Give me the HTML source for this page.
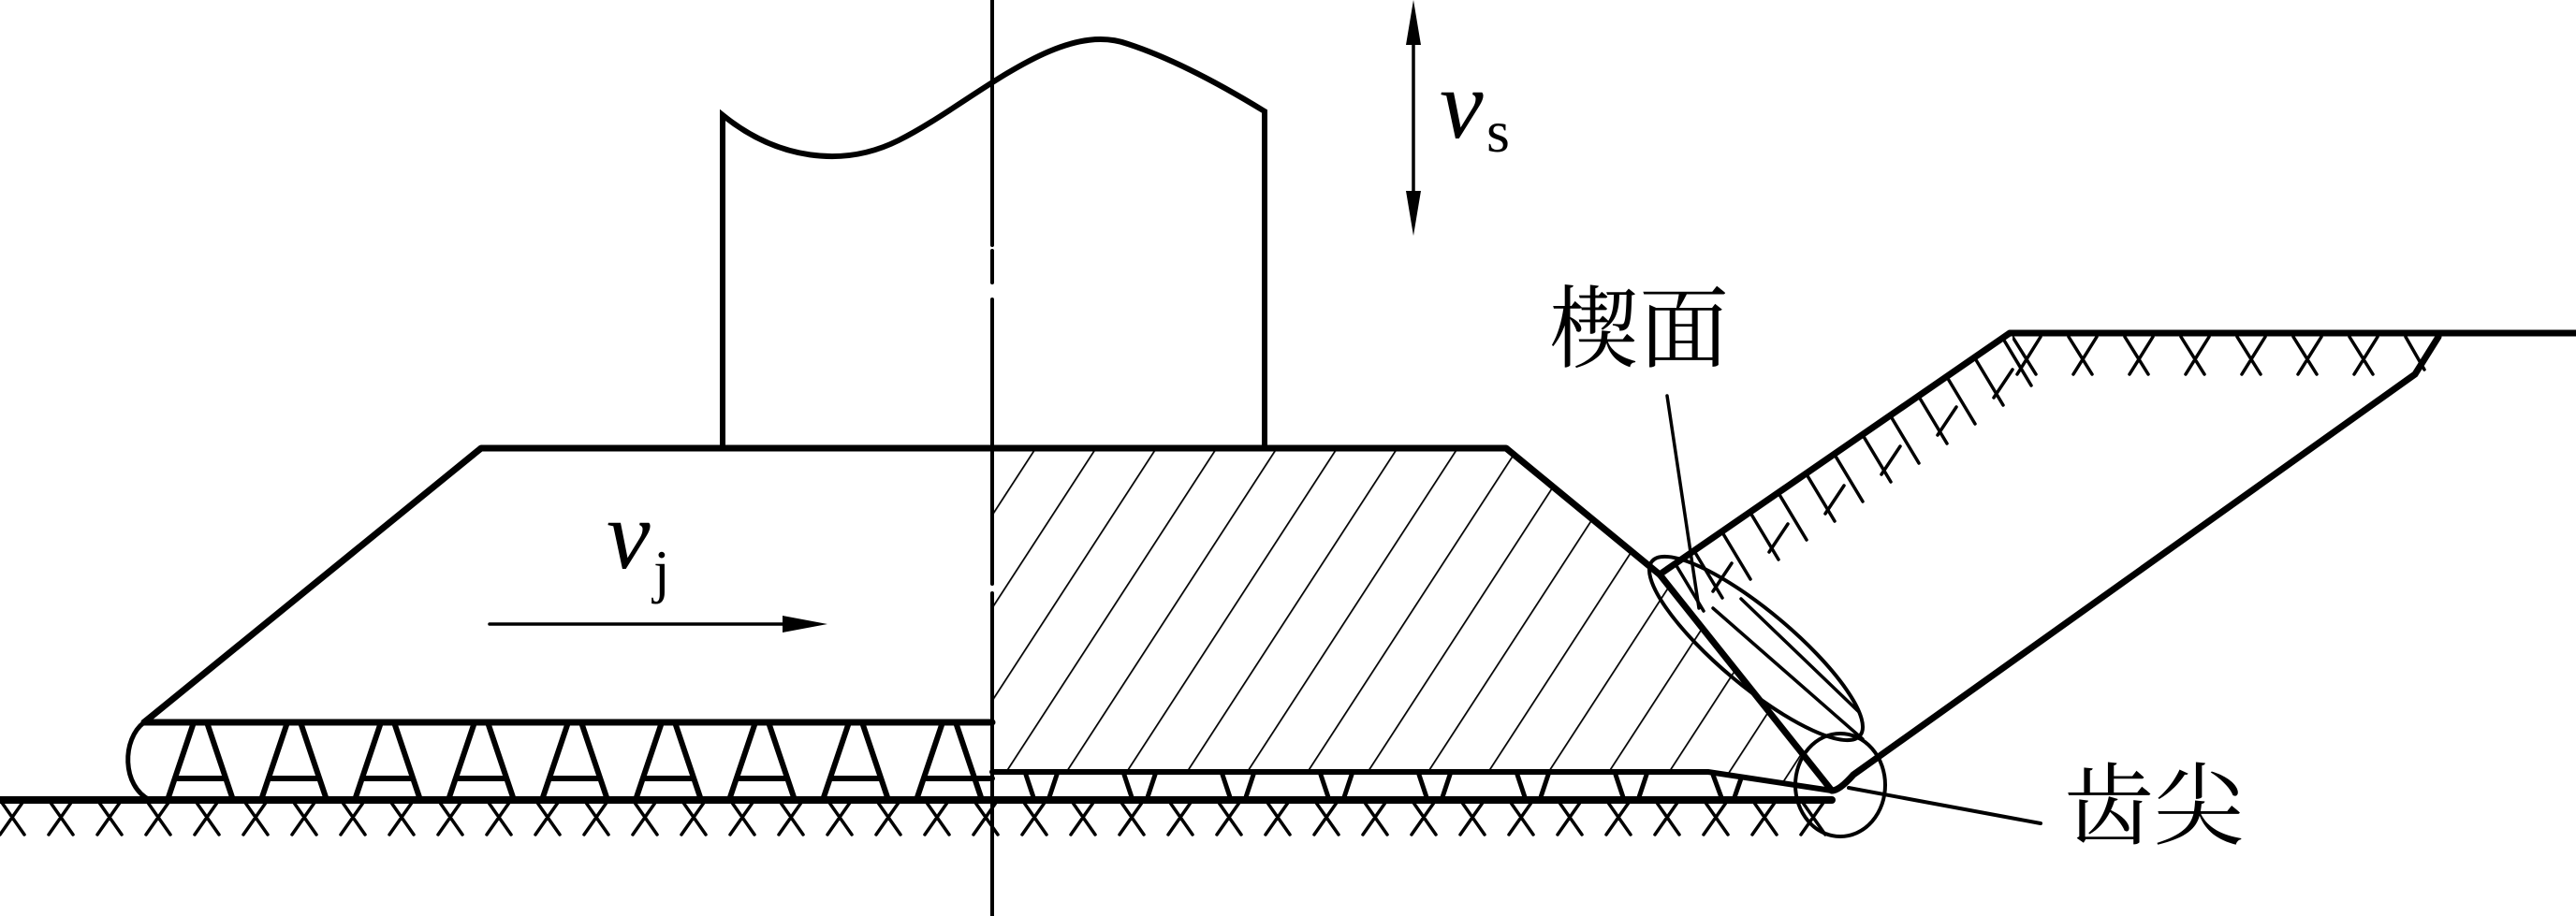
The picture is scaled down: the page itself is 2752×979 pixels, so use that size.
<!DOCTYPE html>
<html><head><meta charset="utf-8"><style>
html,body{margin:0;padding:0;background:#fff;}
svg{display:block;}
text{font-family:"Liberation Serif","Noto Serif CJK SC",serif;fill:#000;}
</style></head><body>
<svg width="2752" height="979" viewBox="0 0 2752 979" xmlns="http://www.w3.org/2000/svg">
<defs>
<pattern id="diag" patternUnits="userSpaceOnUse" width="54" height="54" patternTransform="rotate(33)">
<line x1="0" y1="0" x2="0" y2="54" stroke="#000" stroke-width="3.5"/>
</pattern>
<clipPath id="bodyR"><polygon points="1060,479 1609,479 1773,614 1957,845 1825,825 1060,825"/></clipPath>
<clipPath id="gnd"><rect x="0" y="855" width="1960" height="40"/></clipPath>
<clipPath id="topR"><rect x="2150" y="356" width="450" height="50"/></clipPath>
</defs>
<g stroke="#000" fill="none" stroke-linecap="round">
<rect x="1060" y="479" width="900" height="380" fill="url(#diag)" stroke="none" clip-path="url(#bodyR)"/>
<g clip-path="url(#gnd)" stroke-width="3.5">
<path d="M0,855 L26,892 M26,855 L0,892 M52,855 L78,892 M78,855 L52,892 M104,855 L130,892 M130,855 L104,892 M156,855 L182,892 M182,855 L156,892 M208,855 L234,892 M234,855 L208,892 M260,855 L286,892 M286,855 L260,892 M312,855 L338,892 M338,855 L312,892 M364,855 L390,892 M390,855 L364,892 M416,855 L442,892 M442,855 L416,892 M468,855 L494,892 M494,855 L468,892 M520,855 L546,892 M546,855 L520,892 M572,855 L598,892 M598,855 L572,892 M624,855 L650,892 M650,855 L624,892 M676,855 L702,892 M702,855 L676,892 M728,855 L754,892 M754,855 L728,892 M780,855 L806,892 M806,855 L780,892 M832,855 L858,892 M858,855 L832,892 M884,855 L910,892 M910,855 L884,892 M936,855 L962,892 M962,855 L936,892 M988,855 L1014,892 M1014,855 L988,892 M1040,855 L1066,892 M1066,855 L1040,892 M1092,855 L1118,892 M1118,855 L1092,892 M1144,855 L1170,892 M1170,855 L1144,892 M1196,855 L1222,892 M1222,855 L1196,892 M1248,855 L1274,892 M1274,855 L1248,892 M1300,855 L1326,892 M1326,855 L1300,892 M1352,855 L1378,892 M1378,855 L1352,892 M1404,855 L1430,892 M1430,855 L1404,892 M1456,855 L1482,892 M1482,855 L1456,892 M1508,855 L1534,892 M1534,855 L1508,892 M1560,855 L1586,892 M1586,855 L1560,892 M1612,855 L1638,892 M1638,855 L1612,892 M1664,855 L1690,892 M1690,855 L1664,892 M1716,855 L1742,892 M1742,855 L1716,892 M1768,855 L1794,892 M1794,855 L1768,892 M1820,855 L1846,892 M1846,855 L1820,892 M1872,855 L1898,892 M1898,855 L1872,892 M1924,855 L1950,892 M1950,855 L1924,892"/>
</g>
<g stroke-width="3.5" clip-path="url(#topR)">
<path d="M2150,360 L2175,400 M2180,360 L2155,400 M2210,360 L2235,400 M2240,360 L2215,400 M2270,360 L2295,400 M2300,360 L2275,400 M2330,360 L2355,400 M2360,360 L2335,400 M2390,360 L2415,400 M2420,360 L2395,400 M2450,360 L2475,400 M2480,360 L2455,400 M2510,360 L2535,400 M2540,360 L2515,400 M2570,360 L2590,395"/>
</g>
<!-- slope ticks -->
<g stroke-width="3.5">
<path d="M2140,362 L2170,412 M2110,383 L2140,433 M2080,403 L2110,453 M2050,424 L2080,474 M2020,445 L2050,495 M1990,465 L2020,515 M1960,486 L1990,536 M1930,507 L1960,557 M1900,527 L1930,577 M1870,548 L1900,598 M1840,569 L1870,619 M1810,589 L1840,639 M1790,603 L1820,653"/>
<path d="M2150,395 L2130,425 M2090,435 L2070,465 M2030,477 L2010,507 M1970,519 L1950,549 M1910,560 L1890,590 M1850,602 L1830,632"/>
<path d="M1830,650 L1990,790 M1860,640 L1985,760"/>
</g>
<path d="M1060,0 V262 M1060,268 V302 M1060,320 V624 M1060,634 V979" stroke-width="4"/>
<path d="M772,479 V123 C830,170 900,180 960,150 C1040,110 1130,20 1205,47 C1260,65 1320,100 1351,119 V479" stroke-width="6"/>
<path d="M154,772 L514,479 H1609 L1773,614 L1957,845" stroke-width="7" stroke-linejoin="round"/>
<path d="M154,772 H1060" stroke-width="7"/>
<path d="M154,772 C130,790 130,840 160,855" stroke-width="5"/>
<path d="M0,855 H1957" stroke-width="8"/>
<path d="M1060,825 H1825 L1957,845" stroke-width="6"/>
<g stroke-width="6">
<path d="M179,855 L207,772 M249,855 L221,772 M190,832 H238"/>
<path d="M279,855 L307,772 M349,855 L321,772 M290,832 H338"/>
<path d="M379,855 L407,772 M449,855 L421,772 M390,832 H438"/>
<path d="M479,855 L507,772 M549,855 L521,772 M490,832 H538"/>
<path d="M579,855 L607,772 M649,855 L621,772 M590,832 H638"/>
<path d="M679,855 L707,772 M749,855 L721,772 M690,832 H738"/>
<path d="M779,855 L807,772 M849,855 L821,772 M790,832 H838"/>
<path d="M879,855 L907,772 M949,855 L921,772 M890,832 H938"/>
<path d="M979,855 L1007,772 M1049,855 L1021,772 M990,832 H1060"/>
</g>
<g stroke-width="5">
<path d="M1095,825 L1105,855 M1130,825 L1120,855"/>
<path d="M1200,825 L1210,855 M1235,825 L1225,855"/>
<path d="M1305,825 L1315,855 M1340,825 L1330,855"/>
<path d="M1410,825 L1420,855 M1445,825 L1435,855"/>
<path d="M1515,825 L1525,855 M1550,825 L1540,855"/>
<path d="M1620,825 L1630,855 M1655,825 L1645,855"/>
<path d="M1725,825 L1735,855 M1760,825 L1750,855"/>
<path d="M1830,828 L1840,855 M1860,832 L1852,855"/>
</g>
<path d="M1773,614 L2147,356 H2752" stroke-width="7" stroke-linejoin="round"/>
<path d="M2605,360 L2580,400 L1980,828 Q1965,845 1957,845" stroke-width="7"/>
<ellipse cx="1876" cy="693" rx="145" ry="40" transform="rotate(40 1876 693)" stroke-width="4"/>
<ellipse cx="1966" cy="839" rx="48" ry="55" stroke-width="4"/>
<path d="M1781,423 L1815,650" stroke-width="3.5"/>
<path d="M1975,842 L2180,880" stroke-width="4"/>
<path d="M1510,20 V235" stroke-width="3.5"/>
<path d="M523,667 H850" stroke-width="3.5"/>
</g>
<polygon points="1510,0 1502,48 1518,48" fill="#000"/>
<polygon points="1510,252 1502,204 1518,204" fill="#000"/>
<polygon points="884,667 836,658 836,676" fill="#000"/>
<text x="1538" y="147" font-size="105" font-style="italic">v</text>
<text x="1588" y="162" font-size="64">s</text>
<text x="648" y="607" font-size="105" font-style="italic">v</text>
<text x="698" y="632" font-size="64">j</text>
<text x="1655" y="385" font-size="96">楔面</text>
<text x="2205" y="895" font-size="96">齿尖</text>
</svg>
</body></html>
